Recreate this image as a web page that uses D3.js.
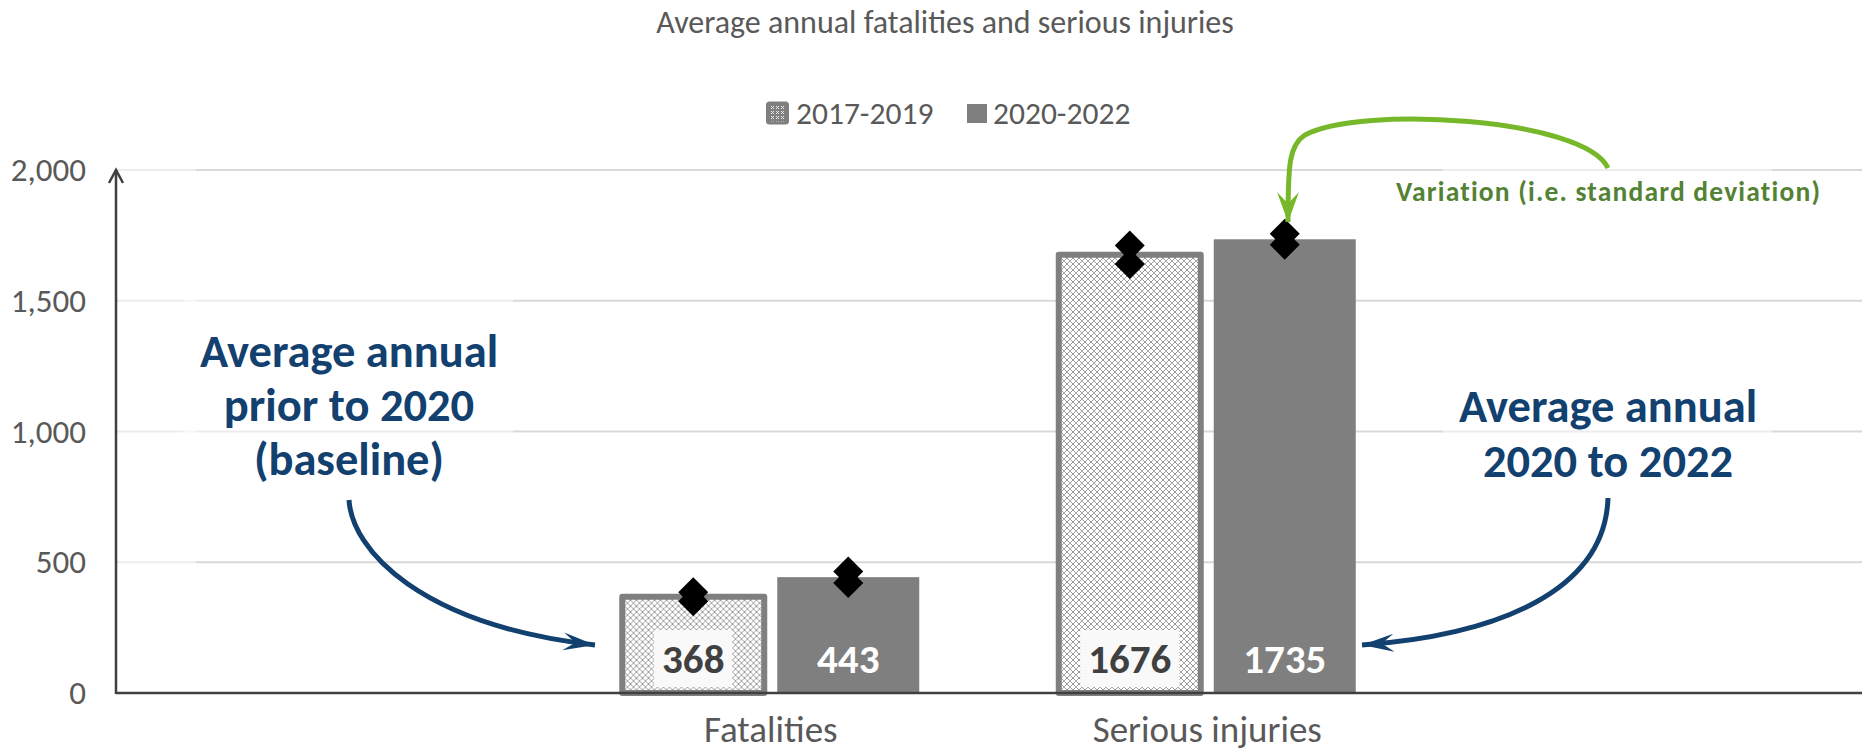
<!DOCTYPE html>
<html>
<head>
<meta charset="utf-8">
<script src="https://cdn.jsdelivr.net/npm/d3@7/dist/d3.min.js"></script>
<style>
  html, body { margin: 0; padding: 0; background: #ffffff; }
  svg { display: block; font-family: Calibri, Carlito, Lato, sans-serif; }
</style>
</head>
<body>
<svg id="chart" width="1870" height="752"></svg>
<script>
// ---- data ----
const categories = ["Fatalities", "Serious injuries"];
const seriesNames = ["2017-2019", "2020-2022"];
const values2017 = [368, 1676];          // average annual, 2017-2019
const values2020 = [443, 1735];          // average annual, 2020-2022
const spread2017 = [17, 35];             // standard deviation, 2017-2019
const spread2020 = [22, 21];             // standard deviation, 2020-2022
const yTicks = [0, 500, 1000, 1500, 2000];

const titleText = "Average annual fatalities and serious injuries";
const noteLeft = ["Average annual", "prior to 2020", "(baseline)"];
const noteRight = ["Average annual", "2020 to 2022"];
const noteVariation = "Variation (i.e. standard deviation)";

// ---- layout ----
const W = 1870, H = 752;
const plot = { left: 116, right: 1862, top: 170, bottom: 693 };
const grey = "#7f7f7f", textGrey = "#595959", axisCol = "#404040";
const navy = "#12406f", green = "#76b82a", greenText = "#548235";

const svg = d3.select("#chart");
const defs = svg.append("defs");

// lattice texture for the 2017-2019 bars
const pat = defs.append("pattern").attr("id", "lattice")
  .attr("patternUnits", "userSpaceOnUse").attr("width", 6).attr("height", 6);
pat.append("rect").attr("width", 6).attr("height", 6).attr("fill", "#ffffff");
pat.append("path").attr("d", "M0,0L6,6M6,0L0,6")
  .attr("stroke", "#9a9a9a").attr("stroke-width", 1);
pat.append("circle").attr("cx", 3).attr("cy", 3).attr("r", 0.7).attr("fill", "#c4c4c4");

// texture for the small legend key
const patKey = defs.append("pattern").attr("id", "latticeKey")
  .attr("patternUnits", "userSpaceOnUse").attr("width", 5).attr("height", 5);
patKey.append("rect").attr("width", 5).attr("height", 5).attr("fill", "#7f7f7f");
patKey.append("path").attr("d", "M1,1L4,4M4,1L1,4")
  .attr("stroke", "#e8e8e8").attr("stroke-width", 1);

// arrow heads
function stealth(id, color, len, half) {
  defs.append("marker").attr("id", id)
    .attr("markerUnits", "userSpaceOnUse")
    .attr("viewBox", `${-len - 2} ${-half - 2} ${len + 4} ${2 * half + 4}`)
    .attr("refX", 0).attr("refY", 0)
    .attr("markerWidth", len + 4).attr("markerHeight", 2 * half + 4)
    .attr("orient", "auto")
    .append("path")
    .attr("d", `M0,0L${-len},${-half}L${-len * 0.62},0L${-len},${half}Z`)
    .attr("fill", color);
}
stealth("headNavy", navy, 32, 9);
stealth("headGreen", green, 30, 11);

// ---- scales ----
const y = d3.scaleLinear().domain([0, 2000]).range([plot.bottom, plot.top]);
const x0 = d3.scaleBand().domain(categories)
  .range([plot.left, plot.right]).paddingInner(0).paddingOuter(1);
const half = x0.bandwidth() / 2;
const x1 = d3.scaleBand().domain(seriesNames)
  .range([half - 148.5, half + 148.5]).paddingInner(13 / 155).paddingOuter(0);

// ---- title ----
svg.append("text").attr("x", 945).attr("y", 33)
  .attr("text-anchor", "middle").attr("font-size", 32).attr("fill", textGrey)
  .text(titleText);

// ---- legend ----
const legend = svg.append("g");
legend.append("rect").attr("x", 767.5).attr("y", 103).attr("width", 20).attr("height", 20)
  .attr("rx", 2).attr("fill", "url(#latticeKey)").attr("stroke", grey).attr("stroke-width", 3);
legend.append("text").attr("x", 796).attr("y", 124).attr("font-size", 31.5)
  .attr("fill", textGrey).text(seriesNames[0]);
legend.append("rect").attr("x", 967).attr("y", 104).attr("width", 20).attr("height", 19)
  .attr("fill", grey);
legend.append("text").attr("x", 993).attr("y", 124).attr("font-size", 31.5)
  .attr("fill", textGrey).text(seriesNames[1]);

// ---- gridlines ----
svg.append("g").selectAll("line").data(yTicks.filter(d => d > 0)).join("line")
  .attr("x1", plot.left).attr("x2", plot.right)
  .attr("y1", d => y(d)).attr("y2", d => y(d))
  .attr("stroke", "#d9d9d9").attr("stroke-width", 2);

// translucent text boxes sitting over the grid
const boxes = [
  [118, 165, 78, 520], [183, 285, 330, 205], [1443, 150, 329, 70], [1443, 380, 329, 125]
];
svg.append("g").selectAll("rect").data(boxes).join("rect")
  .attr("x", d => d[0]).attr("y", d => d[1]).attr("width", d => d[2]).attr("height", d => d[3])
  .attr("fill", "#ffffff").attr("opacity", 0.5);

// ---- y tick labels ----
svg.append("g").selectAll("text").data(yTicks).join("text")
  .attr("x", 86).attr("y", d => y(d) + 11)
  .attr("text-anchor", "end").attr("font-size", 33).attr("fill", textGrey)
  .text(d => d3.format(",")(d));

// ---- bars ----
const rows = categories.map((c, i) => ({
  cat: c,
  items: [
    { s: seriesNames[0], v: values2017[i], sd: spread2017[i] },
    { s: seriesNames[1], v: values2020[i], sd: spread2020[i] }
  ]
}));

const groups = svg.append("g").selectAll("g").data(rows).join("g")
  .attr("transform", d => `translate(${x0(d.cat)},0)`);

groups.selectAll("rect.bar").data(d => d.items).join("rect")
  .attr("class", "bar")
  .attr("x", d => x1(d.s)).attr("width", x1.bandwidth())
  .attr("y", d => y(d.v)).attr("height", d => y(0) - y(d.v))
  .attr("fill", d => d.s === seriesNames[0] ? "url(#lattice)" : grey)
  .attr("stroke", d => d.s === seriesNames[0] ? grey : "none")
  .attr("stroke-width", 6).attr("stroke-linejoin", "round");

// value labels at the base of each bar
groups.each(function(row) {
  const g = d3.select(this);
  row.items.forEach(d => {
    const cx = x1(d.s) + x1.bandwidth() / 2;
    const isBase = d.s === seriesNames[0];
    const bg = g.append("rect");
    const t = g.append("text")
      .attr("x", cx).attr("y", y(0) - 20)
      .attr("text-anchor", "middle").attr("font-size", 41).attr("font-weight", "bold")
      .attr("fill", isBase ? "#404040" : "#ffffff")
      .text(d.v);
    if (isBase) {
      const w = t.node().getComputedTextLength() + 16;
      bg.attr("x", cx - w / 2).attr("width", w)
        .attr("y", y(0) - 63).attr("height", 57)
        .attr("fill", "#f9f9f9");
    } else {
      bg.remove();
    }
  });
});

// variation markers: mean + sd and mean - sd
const diamond = d3.symbol(d3.symbolSquare, 450);
groups.each(function(row) {
  const g = d3.select(this);
  row.items.forEach(d => {
    const cx = x1(d.s) + x1.bandwidth() / 2;
    [d.v - d.sd, d.v + d.sd].forEach(v => {
      g.append("path").attr("d", diamond())
        .attr("transform", `translate(${cx},${y(v)}) rotate(45)`)
        .attr("fill", "#000000");
    });
  });
});

// ---- axes ----
svg.append("line").attr("x1", plot.left).attr("x2", plot.right)
  .attr("y1", y(0)).attr("y2", y(0)).attr("stroke", axisCol).attr("stroke-width", 2.5);
svg.append("line").attr("x1", plot.left).attr("x2", plot.left)
  .attr("y1", y(0) + 1).attr("y2", plot.top).attr("stroke", axisCol).attr("stroke-width", 2.5);
svg.append("path")
  .attr("d", `M${plot.left - 7},${plot.top + 13}L${plot.left},${plot.top}L${plot.left + 7},${plot.top + 13}`)
  .attr("fill", "none").attr("stroke", axisCol).attr("stroke-width", 2.5);

// category labels
svg.append("g").selectAll("text").data(categories).join("text")
  .attr("x", d => x0(d) + half).attr("y", 742)
  .attr("text-anchor", "middle").attr("font-size", 37).attr("fill", textGrey)
  .text(d => d);

// ---- annotations ----
svg.append("text").attr("text-anchor", "middle").attr("font-size", 46.5)
  .attr("font-weight", "bold").attr("fill", navy)
  .selectAll("tspan").data(noteLeft).join("tspan")
  .attr("x", 349).attr("y", (d, i) => 367 + i * 54).text(d => d);

svg.append("text").attr("text-anchor", "middle").attr("font-size", 46.5)
  .attr("font-weight", "bold").attr("fill", navy)
  .selectAll("tspan").data(noteRight).join("tspan")
  .attr("x", 1608).attr("y", (d, i) => 422 + i * 55).text(d => d);

svg.append("path").attr("d", "M349,500C352,550 420,625 595,645")
  .attr("fill", "none").attr("stroke", navy).attr("stroke-width", 5)
  .attr("marker-end", "url(#headNavy)");
svg.append("path").attr("d", "M1608,498C1605,590 1500,635 1362,645")
  .attr("fill", "none").attr("stroke", navy).attr("stroke-width", 5)
  .attr("marker-end", "url(#headNavy)");

svg.append("path").attr("d", "M1608,168C1585,118 1360,105 1305,135C1289,145 1288,165 1288,222")
  .attr("fill", "none").attr("stroke", green).attr("stroke-width", 5)
  .attr("marker-end", "url(#headGreen)");

svg.append("text").attr("x", 1396).attr("y", 201)
  .attr("font-size", 27.5).attr("font-weight", "bold").attr("letter-spacing", 1.2)
  .attr("fill", greenText).text(noteVariation);
</script>
</body>
</html>
